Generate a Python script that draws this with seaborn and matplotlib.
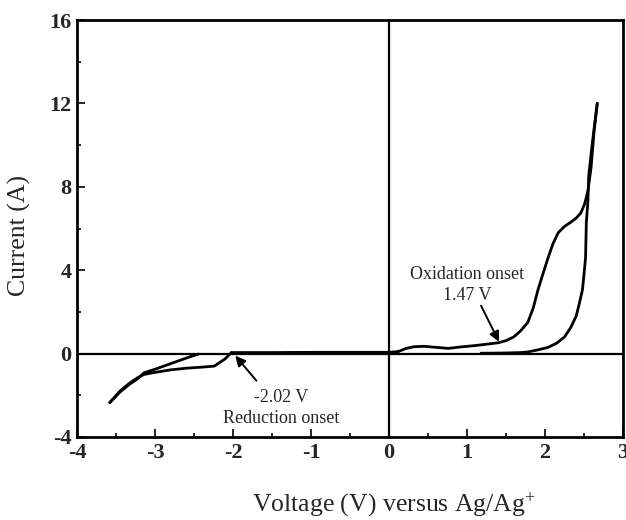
import matplotlib
matplotlib.use("Agg")
import matplotlib.pyplot as plt
from matplotlib.ticker import MultipleLocator
import seaborn as sns
import pandas as pd

# Anodic scan: forward sweep (0.1 V -> 2.67 V) and the return sweep
ox_fwd_v = [0.12, 0.22, 0.32, 0.45, 0.60, 0.76, 0.92, 1.09, 1.25, 1.40, 1.50, 1.60, 1.69, 1.78,
            1.85, 1.91, 1.98, 2.04, 2.10, 2.17, 2.25, 2.33, 2.40, 2.46, 2.51, 2.55, 2.59, 2.63, 2.67]
ox_fwd_i = [0.10, 0.25, 0.33, 0.35, 0.30, 0.25, 0.32, 0.38, 0.45, 0.52, 0.62, 0.80, 1.10, 1.50,
            2.20, 3.06, 3.90, 4.60, 5.25, 5.80, 6.10, 6.30, 6.50, 6.75, 7.20, 7.80, 8.90, 10.70, 12.00]
ox_rev_v = [2.67, 2.61, 2.58, 2.56, 2.55, 2.53, 2.52, 2.50, 2.48, 2.44, 2.40, 2.33, 2.25, 2.15,
            2.04, 1.91, 1.78, 1.69, 1.50, 1.30, 1.18]
ox_rev_i = [12.00, 10.20, 9.20, 8.50, 7.30, 6.30, 4.60, 3.80, 3.06, 2.40, 1.80, 1.25, 0.80, 0.50,
            0.30, 0.18, 0.08, 0.05, 0.03, 0.02, 0.02]

# Cathodic scan: sweep down to -3.6 V and back
red_fwd_v = [-2.02, -2.10, -2.24, -2.40, -2.60, -2.80, -3.00, -3.14, -3.22, -3.32, -3.45, -3.58]
red_fwd_i = [0.05, -0.25, -0.60, -0.65, -0.70, -0.78, -0.90, -1.00, -1.15, -1.40, -1.80, -2.35]
red_rev_v = [-3.58, -3.45, -3.32, -3.22, -3.14, -3.00, -2.85, -2.70, -2.55, -2.44]
red_rev_i = [-2.35, -1.85, -1.45, -1.20, -0.92, -0.75, -0.55, -0.35, -0.15, -0.02]

# Near-zero baseline between the two onsets
base_v = [-2.02, -1.50, -1.00, -0.50, 0.00, 0.12]
base_i = [0.05, 0.05, 0.06, 0.06, 0.06, 0.10]

# Onset values quoted in the annotations
ox_onset = 1.47
red_onset = -2.02

xticks = [-4, -3, -2, -1, 0, 1, 2, 3]
yticks = [-4, 0, 4, 8, 12, 16]

sns.set_theme(style="ticks")
plt.rcParams["font.family"] = ["Liberation Serif", "DejaVu Serif"]
plt.rcParams["axes.unicode_minus"] = False
plt.rcParams["mathtext.fontset"] = "custom"
plt.rcParams["mathtext.rm"] = "Liberation Serif"
plt.rcParams["mathtext.default"] = "rm"

fig = plt.figure(figsize=(6.26, 5.2), dpi=100)
ax = fig.add_axes([77 / 626, 1 - 437 / 520, (623 - 77) / 626, (437 - 20) / 520])

segments = [
    (ox_fwd_v, ox_fwd_i), (ox_rev_v, ox_rev_i),
    (red_fwd_v, red_fwd_i), (red_rev_v, red_rev_i),
    (base_v, base_i),
]
for v, i in segments:
    df = pd.DataFrame({"V": v, "I": i})
    sns.lineplot(data=df, x="V", y="I", sort=False, estimator=None,
                 color="black", linewidth=2.0, ax=ax)

ax.axhline(0, color="black", linewidth=1.6, zorder=1)
ax.axvline(0, color="black", linewidth=1.6, zorder=1)

ax.set_xlim(-4, 3)
ax.set_ylim(-4, 16)
ax.set_xticks(xticks)
ax.set_yticks(yticks)
ax.set_xticklabels([str(t) for t in xticks])
ax.set_yticklabels([str(t) for t in yticks])
ax.xaxis.set_minor_locator(MultipleLocator(0.5))
ax.yaxis.set_minor_locator(MultipleLocator(2))
ax.tick_params(which="both", direction="in", top=False, right=False,
               width=1.4, labelsize=16)
ax.tick_params(which="major", length=6, pad=4)
ax.tick_params(which="minor", length=3)
for lab in ax.get_xticklabels() + ax.get_yticklabels():
    lab.set_fontweight("bold")
for s in ax.spines.values():
    s.set_linewidth(2.0)
    s.set_color("black")

ax.set_xlabel("Voltage (V) versus Ag/Ag$^{+}$", fontsize=18.5)
ax.set_ylabel("Current (A)", fontsize=18.5)
ax.xaxis.set_label_coords(0.58, -0.128)
ax.yaxis.set_label_coords(-0.084, 0.484)

# Onset labels with their arrows
ax.text(1.0, 3.3, f"Oxidation onset\n{ox_onset:.2f} V", ha="center", va="center",
        fontsize=13, linespacing=1.3)
ax.annotate("", xy=(ox_onset - 0.06, 0.57), xytext=(1.18, 2.3),
            arrowprops=dict(arrowstyle="-|>", color="black", lw=1.4,
                            shrinkA=0, shrinkB=0, mutation_scale=15))
ax.text(-1.38, -2.6, f"{red_onset:.2f} V\nReduction onset", ha="center", va="center",
        fontsize=13, linespacing=1.3)
ax.annotate("", xy=(red_onset + 0.05, -0.1), xytext=(-1.70, -1.30),
            arrowprops=dict(arrowstyle="-|>", color="black", lw=1.4,
                            shrinkA=0, shrinkB=0, mutation_scale=15))

fig.savefig("out.png", dpi=100)
